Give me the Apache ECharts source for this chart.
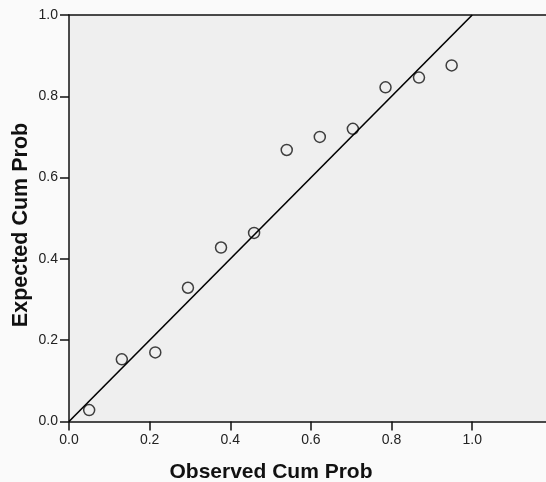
<!DOCTYPE html>
<html>
<head>
<meta charset="utf-8">
<script src="https://cdn.jsdelivr.net/npm/echarts@6/dist/echarts.min.js"></script>
<style>
html,body{margin:0;padding:0;background:#fafafa;}
#c{width:546px;height:482px;}
</style>
</head>
<body>
<div id="c"></div>
<script>
const observed = [0.050, 0.131, 0.214, 0.295, 0.377, 0.459, 0.540, 0.622, 0.704, 0.785, 0.868, 0.949];
const expected = [0.028, 0.153, 0.170, 0.329, 0.428, 0.464, 0.668, 0.700, 0.720, 0.822, 0.846, 0.876];
const refLine = [[0, 0], [1, 1]];
const xTicks = [0, 0.2, 0.4, 0.6, 0.8, 1.0];
const yTicks = [0, 0.2, 0.4, 0.6, 0.8, 1.0];
const xTitle = 'Observed Cum Prob';
const yTitle = 'Expected Cum Prob';

const chart = echarts.init(document.getElementById('c'), null, {renderer: 'canvas'});
const fmt = v => v.toFixed(1);
chart.setOption({
  animation: false,
  backgroundColor: '#fafafa',
  grid: {left: 69, top: 15, right: -2, bottom: 60.5, show: true, backgroundColor: '#efefef', borderWidth: 0},
  xAxis: [{
    type: 'value', min: 0, max: 1.183, position: 'bottom',
    axisLine: {show: true, onZero: false, lineStyle: {color: '#111', width: 1.5}},
    axisTick: {show: true, inside: false, length: 9, customValues: xTicks, lineStyle: {color: '#111', width: 1.5}},
    axisLabel: {customValues: xTicks, formatter: fmt, margin: 12, fontSize: 14, color: '#222', fontFamily: 'Liberation Sans, Arial, sans-serif'},
    splitLine: {show: false}
  }, {
    type: 'value', min: 0, max: 1.183, position: 'top',
    axisLine: {show: true, onZero: false, lineStyle: {color: '#111', width: 1.5}},
    axisTick: {show: false}, axisLabel: {show: false}, splitLine: {show: false}
  }],
  yAxis: {
    type: 'value', min: 0, max: 1, interval: 0.2,
    axisLine: {show: true, onZero: false, lineStyle: {color: '#111', width: 1.5}},
    axisTick: {show: true, inside: false, length: 9, lineStyle: {color: '#111', width: 1.5}},
    axisLabel: {customValues: yTicks, formatter: fmt, margin: 11, fontSize: 14, color: '#222', fontFamily: 'Liberation Sans, Arial, sans-serif'},
    splitLine: {show: false}
  },
  graphic: [
    {type: 'text', x: 271, y: 472, style: {text: xTitle, textAlign: 'center', textVerticalAlign: 'middle', font: 'bold 21px "Liberation Sans", Arial, sans-serif', fill: '#111'}},
    {type: 'text', x: 21, y: 225, rotation: Math.PI / 2, style: {text: yTitle, textAlign: 'center', textVerticalAlign: 'middle', font: 'bold 21.5px "Liberation Sans", Arial, sans-serif', fill: '#111'}}
  ],
  series: [{
    type: 'line', data: refLine, showSymbol: false, symbol: 'none', silent: true,
    lineStyle: {color: '#000', width: 1.6}
  }, {
    type: 'scatter', data: observed.map((x, i) => [x, expected[i]]),
    symbol: 'circle', symbolSize: 11,
    itemStyle: {color: 'rgba(0,0,0,0)', borderColor: '#111', borderWidth: 1.5}
  }]
});
</script>
</body>
</html>
